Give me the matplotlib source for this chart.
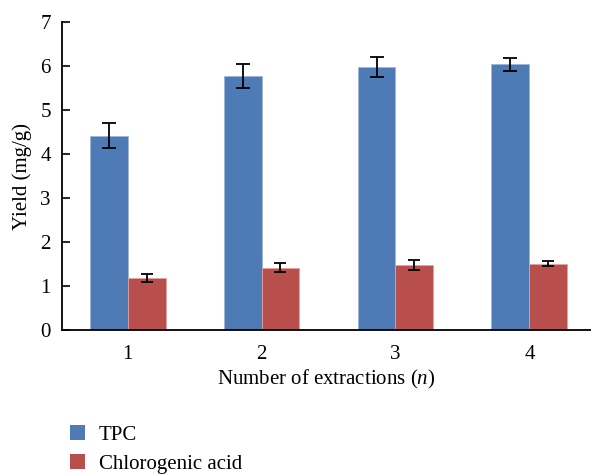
import matplotlib
matplotlib.use("Agg")
import matplotlib.pyplot as plt
import numpy as np
from matplotlib.patches import Patch

categories = ["1", "2", "3", "4"]
tpc = [4.42, 5.77, 5.98, 6.04]
tpc_err = [0.29, 0.28, 0.23, 0.15]
chloro = [1.18, 1.42, 1.48, 1.51]
chloro_err = [0.09, 0.10, 0.11, 0.06]
series_names = ["TPC", "Chlorogenic acid"]
yticks = [0, 1, 2, 3, 4, 5, 6, 7]

plt.rcParams['font.family'] = ['Liberation Serif', 'DejaVu Serif']
plt.rcParams['mathtext.fontset'] = 'custom'
plt.rcParams['mathtext.it'] = 'Liberation Serif:italic'
plt.rcParams['mathtext.rm'] = 'Liberation Serif'
blue = "#4E7BB5"
red = "#B94F4D"
fs = 15

fig = plt.figure(figsize=(5.91, 4.75), dpi=100)
ax = fig.add_axes([62/591, 1-330/475, 1-62/591, (330-22)/475])

x = np.arange(1, len(categories)+1)
w = 0.283
ax.bar(x - w/2, tpc, w, color=blue, edgecolor="#9DB6D8", linewidth=0.6,
       yerr=tpc_err, error_kw=dict(ecolor="black", elinewidth=1.3, capsize=5, capthick=1.3))
ax.bar(x + w/2, chloro, w, color=red, edgecolor="#DFA3A2", linewidth=0.6,
       yerr=chloro_err, error_kw=dict(ecolor="black", elinewidth=1.3, capsize=4, capthick=1.3))

ax.set_xlim(0.51, 4.46)
ax.set_ylim(0, 7)
ax.set_yticks(yticks)
ax.set_xticks(x)
ax.set_xticklabels(categories)
ax.tick_params(axis='y', direction='in', length=6, width=1.2, labelsize=fs, pad=8)
ax.tick_params(axis='x', length=0, labelsize=fs, pad=11)
for s in ['top', 'right']:
    ax.spines[s].set_visible(False)
ax.spines['left'].set_linewidth(1.3)
ax.spines['bottom'].set_linewidth(1.3)

ax.set_ylabel("Yield (mg/g)", fontsize=fs, labelpad=6)
ax.set_xlabel("Number of extractions ($\\mathit{n}$)", fontsize=fs, labelpad=3)

handles = [Patch(facecolor=blue, edgecolor="none"), Patch(facecolor=red, edgecolor="none")]
fig.legend(handles, series_names, loc="upper left", bbox_to_anchor=(53/591, 1-408/475),
           frameon=False, fontsize=fs, handlelength=0.75, handleheight=0.75,
           handletextpad=0.65, labelspacing=0.45, borderpad=0.3)

fig.savefig("out.png", dpi=100)
